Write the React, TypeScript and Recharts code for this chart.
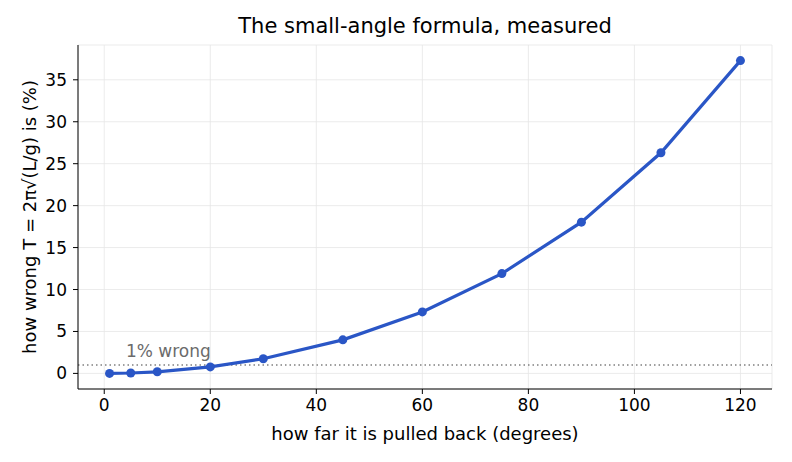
import React from "react";
import {
  LineChart,
  Line,
  XAxis,
  YAxis,
  CartesianGrid,
  ReferenceLine,
  ReferenceDot,
} from "recharts";

const angles = [1, 5, 10, 20, 30, 45, 60, 75, 90, 105, 120];
const errorPct = [0.002, 0.05, 0.19, 0.77, 1.74, 4.0, 7.33, 11.9, 18.03, 26.3, 37.29];
const xTicks = [0, 20, 40, 60, 80, 100, 120];
const yTicks = [0, 5, 10, 15, 20, 25, 30, 35];
const thresholdPct = 1;
const thresholdLabel = "1% wrong";
const labelAnchor = { x: 4.1, y: 2.0 };

const data = angles.map((a, i) => ({ angle: a, err: errorPct[i] }));

const FONT = "DejaVu Sans, sans-serif";
const LINE = "#2a56c6";

const LabelText = (props: any) => {
  const vb = props.viewBox || {};
  const x = vb.x + (vb.width || 0) / 2;
  const y = vb.y + (vb.height || 0) / 2;
  return (
    <text x={x} y={y} fill="#6b6b6b" fontSize={17} fontFamily={FONT} textAnchor="start">
      {thresholdLabel}
    </text>
  );
};

export default function App() {
  return (
    <div style={{ position: "absolute", left: 0, top: 0, width: 792, height: 462, background: "#fff" }}>
      <div
        style={{
          position: "absolute",
          left: 0,
          width: 850,
          top: 14,
          textAlign: "center",
          fontFamily: FONT,
          fontSize: 21,
          color: "#000",
        }}
      >
        The small-angle formula, measured
      </div>
      <LineChart
        width={792}
        height={462}
        data={data}
        margin={{ top: 45, right: 20, left: 0, bottom: 0 }}
        style={{ fontFamily: FONT }}
      >
        <CartesianGrid stroke="#e6e6e6" strokeWidth={0.8} />
        <XAxis
          dataKey="angle"
          type="number"
          domain={[-4.95, 125.95]}
          ticks={xTicks}
          height={73}
          axisLine={{ stroke: "#000", strokeWidth: 1 }}
          tickLine={{ stroke: "#000" }}
          tickSize={5}
          tick={{ fill: "#000", fontSize: 17, fontFamily: FONT, dy: 3 }}
          label={{
            value: "how far it is pulled back (degrees)",
            position: "insideBottom",
            offset: 22,
            fill: "#000",
            fontSize: 18,
            fontFamily: FONT,
          }}
        />
        <YAxis
          type="number"
          domain={[-1.86, 39.15]}
          ticks={yTicks}
          width={78}
          axisLine={{ stroke: "#000", strokeWidth: 1 }}
          tickLine={{ stroke: "#000" }}
          tickSize={5}
          tick={{ fill: "#000", fontSize: 17, fontFamily: FONT, dx: -4 }}
          label={{
            value: "how wrong T = 2π√(L/g) is (%)",
            angle: -90,
            position: "insideLeft",
            offset: 30,
            style: { textAnchor: "middle" },
            fill: "#000",
            fontSize: 18,
            fontFamily: FONT,
          }}
        />
        <ReferenceLine
          y={thresholdPct}
          stroke="#808080"
          strokeWidth={1.3}
          strokeDasharray="1.5 3"
        />
        <ReferenceDot
          x={labelAnchor.x}
          y={labelAnchor.y}
          r={0}
          fill="none"
          stroke="none"
          label={<LabelText />}
        />
        <Line
          type="linear"
          dataKey="err"
          stroke={LINE}
          strokeWidth={3.2}
          dot={{ r: 4.5, fill: LINE, stroke: LINE, strokeWidth: 0 }}
          activeDot={false}
          isAnimationActive={false}
        />
      </LineChart>
    </div>
  );
}
